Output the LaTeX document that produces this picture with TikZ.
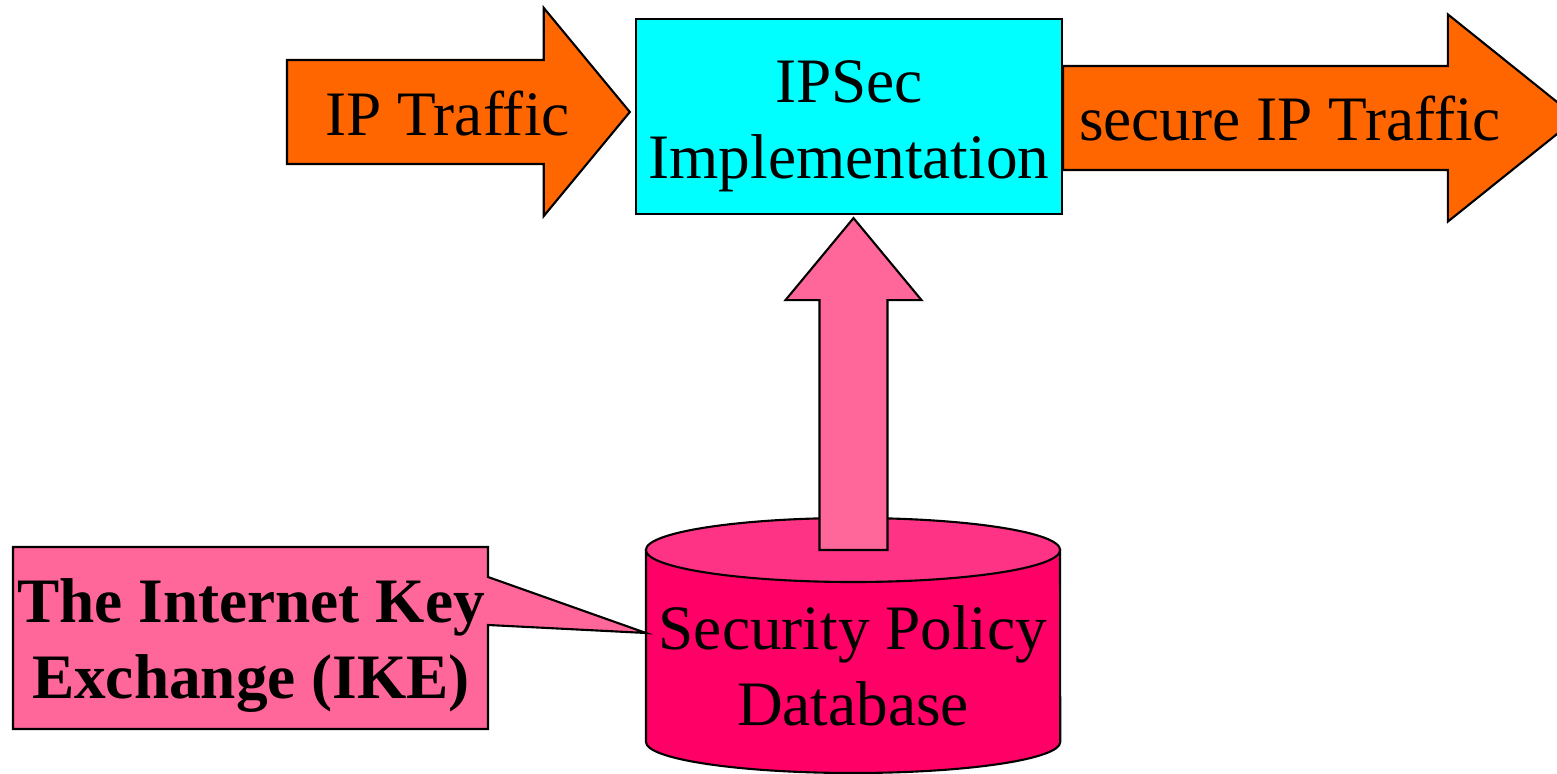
\documentclass[tikz,border=0pt]{standalone}
\usepackage{fontspec}
\setmainfont{Liberation Serif}
\usetikzlibrary{calc}

\definecolor{traffic}{HTML}{FF6600}
\definecolor{ipsec}{HTML}{00FFFF}
\definecolor{ikepink}{HTML}{FF6699}
\definecolor{spdred}{HTML}{FF0066}
\definecolor{spdtop}{HTML}{FF3385}

% fat arrow: [style]{tail}{tip}{half shaft}{half head}{head length}
\newcommand{\blockarrow}[6][]{%
  \coordinate (ba-h) at ($(#3)!#6!(#2)$);
  \draw[outline,#1] ($(#2)!#4!90:(#3)$) -- ($(ba-h)!#4!90:(#3)$)
    -- ($(ba-h)!#5!90:(#3)$) -- (#3) -- ($(ba-h)!#5!-90:(#3)$)
    -- ($(ba-h)!#4!-90:(#3)$) -- ($(#2)!#4!-90:(#3)$) -- cycle;}

\begin{document}
\begin{tikzpicture}[x=0.01cm, y=-0.01cm,
  outline/.style={draw=black, line width=0.6pt},
  big/.style={font=\fontsize{18pt}{21.6pt}\selectfont},
  bigbold/.style={font=\fontsize{18pt}{21.6pt}\selectfont\bfseries}]
  \clip (0,0) rectangle (1557,774);

  % security policy database
  \draw[outline, fill=spdred] (646,550) -- (646,742)
    arc[start angle=180, end angle=360, x radius=2.07cm, y radius=0.31cm]
    -- (1060,550) -- cycle;
  \draw[outline, fill=spdtop] (853,550) ellipse[x radius=2.07cm, y radius=0.32cm];
  \node[big, align=center] (spd) at (853,666) {Security Policy\\Database};
  \coordinate (spdcap) at (853.5,550);
  \coordinate (spdside) at (646,633);

  % IKE callout
  \draw[outline, fill=ikepink] (13,547) -- (488,547) -- (488,577) -- (spdside)
    -- (488,625) -- (488,729) -- (13,729) -- cycle;
  \node[bigbold, align=center] (ike) at (251,646) {The Internet Key\\Exchange (IKE)};

  % IPSec box
  \node[outline, fill=ipsec, big, align=center, inner sep=0pt, text height=1.37cm,
        minimum width=4.26cm, minimum height=1.95cm] (impl) at (849,116.5)
        {IPSec\\Implementation};

  \coordinate (upTip) at ($(impl.south -| spdcap)+(0,3)$);
  \coordinate (inTail) at (287,112);
  \coordinate (inTip) at ($(impl.west)+(-5,-4.5)$);
  \coordinate (outTail) at ($(impl.east)+(0,1.5)$);
  \coordinate (outTip) at (1577,118);

  \blockarrow[fill=ikepink]{spdcap}{upTip}{0.34cm}{0.68cm}{0.82cm}
  \blockarrow[fill=traffic]{inTail}{inTip}{0.52cm}{1.04cm}{0.86cm}
  \blockarrow[fill=traffic]{outTail}{outTip}{0.52cm}{1.035cm}{1.29cm}

  \node[big, anchor=base] (ipin) at (447.5,136) {IP Traffic};
  \node[big, anchor=base] (ipout) at (1290,141) {secure IP Traffic};
\end{tikzpicture}
\end{document}
